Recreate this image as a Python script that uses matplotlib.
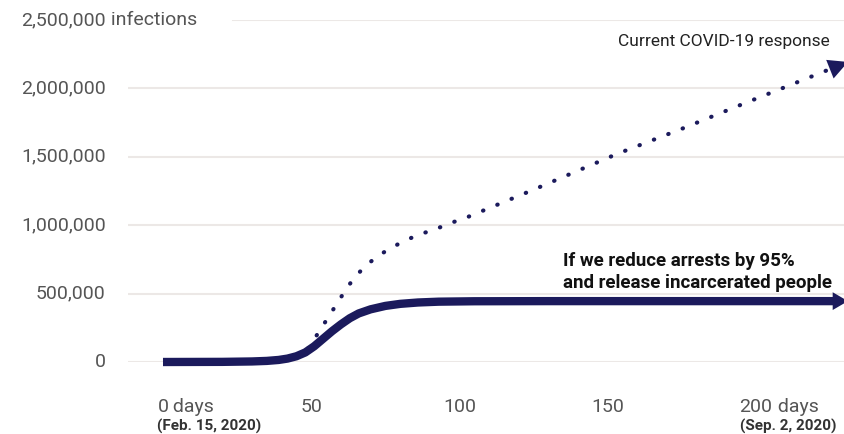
import matplotlib
matplotlib.use("Agg")
import matplotlib.pyplot as plt
from matplotlib.transforms import blended_transform_factory

# Projected infections over time (days since Feb. 15, 2020)
solid_days = [0, 20, 30, 35, 39, 42, 45, 48, 51, 54, 57, 60, 63, 66, 70, 75, 80, 86, 93, 105, 130, 226]
solid_vals = [0, 1e3, 4e3, 8e3, 15e3, 25e3, 42e3, 70e3, 115e3, 170e3, 225e3, 275e3, 320e3,
              355e3, 385e3, 410e3, 425e3, 435e3, 441e3, 444e3, 445e3, 445e3]

dotted_days = [49, 53, 56, 59, 62, 65, 69, 73, 77, 82, 87, 92, 97, 102, 125, 153, 175, 196, 226]
dotted_vals = [100e3, 234e3, 336e3, 438e3, 541e3, 629e3, 716e3, 782e3, 835e3, 892e3, 936e3,
               972e3, 1016e3, 1053e3, 1260e3, 1520e3, 1705e3, 1890e3, 2150e3]

y_ticks = [0, 500000, 1000000, 1500000, 2000000, 2500000]
y_labels = ["0", "500,000", "1,000,000", "1,500,000", "2,000,000", "2,500,000"]
x_ticks = [0, 50, 100, 150, 200]
x_labels = ["0", "50", "100", "150", "200"]

NAVY = "#1b1a5c"
GRAY = "#555555"
GRID = "#ece8e6"
FONT = ["Roboto", "DejaVu Sans"]
NARROW = ["Liberation Sans Narrow", "Roboto", "DejaVu Sans"]

fig = plt.figure(figsize=(8.45, 4.34), dpi=100)
ax = fig.add_axes([128 / 845, 72 / 434, 717 / 845, 342 / 434])
ax.set_xlim(-11.8, 230)
ax.set_ylim(0, 2500000)
for s in ax.spines.values():
    s.set_visible(False)
ax.set_xticks([])
ax.set_yticks([])

# gridlines (top one starts after the "infections" label)
for v in y_ticks[:-1]:
    ax.axhline(v, color=GRID, lw=1.5, zorder=0)
ax.axhline(y_ticks[-1], xmin=105 / 717, color=GRID, lw=1.5, zorder=0)

# y labels
ytr = blended_transform_factory(ax.transAxes, ax.transData)
for v, lab in zip(y_ticks, y_labels):
    ax.annotate(lab, xy=(0, v), xycoords=ytr, xytext=(-16, 0), textcoords="offset points",
                ha="right", va="center", fontsize=14, color=GRAY, family=FONT)
ax.annotate(" infections", xy=(0, y_ticks[-1]), xycoords=ytr, xytext=(-16, 0),
            textcoords="offset points", ha="left", va="center", fontsize=14,
            color=GRAY, family=FONT)

# x labels
xtr = blended_transform_factory(ax.transData, ax.transAxes)
num_texts = []
for d, lab in zip(x_ticks, x_labels):
    t = ax.annotate(lab, xy=(d, 0), xycoords=xtr, xytext=(0, -26), textcoords="offset points",
                    ha="center", va="top", fontsize=14, color=GRAY, family=FONT)
    num_texts.append(t)
for t in (num_texts[0], num_texts[-1]):
    ax.annotate(" days", xy=(1, 0), xycoords=t, ha="left", va="bottom",
                fontsize=14, color=GRAY, family=FONT)
ax.annotate("(Feb. 15, 2020)", xy=(0, 0), xycoords=num_texts[0], xytext=(0, -2),
            textcoords="offset points", ha="left", va="top", fontsize=11,
            fontweight="bold", color="#333333", family=FONT)
ax.annotate("(Sep. 2, 2020)", xy=(0, 0), xycoords=num_texts[-1], xytext=(0, -2),
            textcoords="offset points", ha="left", va="top", fontsize=11,
            fontweight="bold", color="#333333", family=FONT)

# current response: dotted line
ax.plot(dotted_days, dotted_vals, color=NAVY, lw=3.0, linestyle=(0, (0.1, 3.6)),
        dash_capstyle="round", zorder=2, clip_on=False)
# reduced arrests: thick solid line
ax.plot(solid_days, solid_vals, color=NAVY, lw=6, solid_capstyle="butt",
        solid_joinstyle="round", zorder=3, clip_on=False)

# arrow heads
ax.annotate("", xy=(231, solid_vals[-1]), xytext=(solid_days[-1], solid_vals[-1]),
            arrowprops=dict(arrowstyle="-|>,head_length=0.55,head_width=0.32",
                            color=NAVY, lw=0, mutation_scale=20, shrinkA=0, shrinkB=0),
            annotation_clip=False, zorder=4)
slope = (dotted_vals[-1] - dotted_vals[-2]) / (dotted_days[-1] - dotted_days[-2])
ax.annotate("", xy=(231, dotted_vals[-1] + slope * 5), xytext=(dotted_days[-1], dotted_vals[-1]),
            arrowprops=dict(arrowstyle="-|>,head_length=0.7,head_width=0.36",
                            color=NAVY, lw=0, mutation_scale=20, shrinkA=0, shrinkB=0),
            annotation_clip=False, zorder=4)

# series labels
ax.text(225, 2340000, "Current COVID-19 response", ha="right", va="center",
        fontsize=12.5, color="#222222", family=NARROW)
ax.text(135, 512000, "If we reduce arrests by 95%\nand release incarcerated people",
        ha="left", va="bottom", fontsize=13.5, fontweight="bold", color="#111111",
        family=NARROW, linespacing=1.25)

fig.savefig("out.png", dpi=100, facecolor="white")
